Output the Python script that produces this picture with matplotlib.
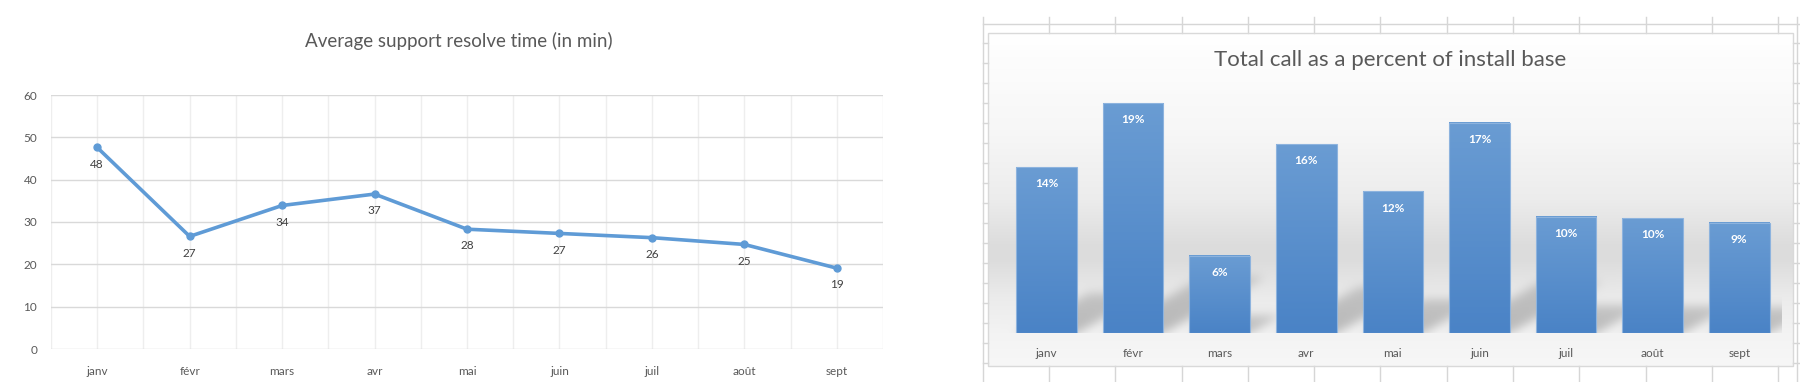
import numpy as np
import matplotlib
matplotlib.use('Agg')
import matplotlib.pyplot as plt
from matplotlib.patches import Rectangle

plt.rcParams['font.family'] = ['Lato', 'DejaVu Sans']

# data
months = ['janv', 'févr', 'mars', 'avr', 'mai', 'juin', 'juil', 'août', 'sept']
resolve_min = [47.6, 26.6, 33.9, 36.6, 28.3, 27.3, 26.3, 24.7, 19.1]
call_pct = [13.7, 19.0, 6.4, 15.6, 11.7, 17.4, 9.6, 9.5, 9.1]

W, H = 1800, 382
fig = plt.figure(figsize=(W / 100, H / 100), dpi=100)

# pixel-space background layer (sheet grid, chart box, gradient, shadows)
bg = fig.add_axes([0, 0, 1, 1])
bg.set_xlim(0, W)
bg.set_ylim(H, 0)
bg.axis('off')

def fig_rect(x0, y0, x1, y1):
    # pixel box (top-left origin) -> figure fraction
    return [x0 / W, (H - y1) / H, (x1 - x0) / W, (y1 - y0) / H]

# ---------------- left: line chart ----------------
ax1 = fig.add_axes(fig_rect(51, 95, 883, 349))
x = np.arange(len(months))
ax1.set_xlim(-0.5, len(months) - 0.5)
ax1.set_ylim(0, 60)
ax1.set_yticks(range(0, 61, 10))
ax1.set_xticks(x)
ax1.set_xticklabels(months)
ax1.set_xticks(np.arange(-0.5, len(months), 1.0), minor=True)
ax1.grid(axis='y', color='#d9d9d9', lw=1)
ax1.grid(axis='x', which='both', color='#eeeeee', lw=1)
ax1.set_axisbelow(True)
for s in ax1.spines.values():
    s.set_visible(False)
ax1.tick_params(axis='both', which='both', length=0, colors='#595959', labelsize=8.5)
ax1.tick_params(axis='y', pad=10)
ax1.tick_params(axis='x', pad=12)
ax1.plot(x, resolve_min, color='#5f9bd6', lw=2.6, marker='o', ms=5,
         solid_capstyle='round', zorder=3)
for xi, v in zip(x, resolve_min):
    ax1.annotate(f'{v:.0f}', (xi, v), xytext=(0, -12), textcoords='offset points',
                 ha='center', va='center', fontsize=8.5, color='#404040')
bg.text(459, 41, 'Average support resolve time (in min)', ha='center', va='center',
        fontsize=13.5, color='#595959')

# ---------------- right: bar chart ----------------
box = (988, 33, 1793, 366)
sheet = '#d6d6d6'
bg.plot([983, 983], [17, H], color=sheet, lw=1)
bg.plot([983, W], [24, 24], color=sheet, lw=1)
bg.plot([1797, 1797], [17, H], color=sheet, lw=1)
for yy in np.arange(43, H, 20):
    bg.plot([983, 988], [yy, yy], color=sheet, lw=1)
    bg.plot([1793, W], [yy, yy], color=sheet, lw=1)
for xx in np.arange(1049, W, 66.3):
    bg.plot([xx, xx], [17, 33], color=sheet, lw=1)
    bg.plot([xx, xx], [366, H], color=sheet, lw=1)

ax2 = fig.add_axes(fig_rect(1003.2, 79, 1782.6, 333))
ax2.set_xlim(-0.5, len(months) - 0.5)
ax2.set_ylim(0, 21)
ax2.patch.set_visible(False)
for s in ax2.spines.values():
    s.set_visible(False)
ax2.set_yticks([])
ax2.set_xticks(x)
ax2.set_xticklabels(months)
ax2.tick_params(axis='x', length=0, colors='#595959', labelsize=8.5, pad=11)

bw = 0.7
grad = np.linspace(0, 1, 64)[:, None]
bar_cmap = matplotlib.colors.LinearSegmentedColormap.from_list(
    'bar', ['#4a83c6', '#6a9cd3'])
for xi, v in zip(x, call_pct):
    ax2.imshow(grad, cmap=bar_cmap, origin='lower', aspect='auto',
               extent=(xi - bw / 2, xi + bw / 2, 0, v), zorder=2)
    ax2.add_patch(Rectangle((xi - bw / 2, 0), bw, v, fill=False,
                            ec='#8db3de', lw=0.8, zorder=3))
    ax2.annotate(f'{v:.0f}%', (xi, v), xytext=(0, -12), textcoords='offset points',
                 ha='center', va='center', fontsize=8.5, color='white',
                 fontweight='bold', zorder=4)
ax2.set_xlim(-0.5, len(months) - 0.5)
ax2.set_ylim(0, 21)

# background gradient of the chart box
bx0, by0, bx1, by1 = box
rows = np.arange(by0, by1) + 0.5
shade = np.interp(rows, [33, 130, 200, 247, 262, 297, 333, 366],
                  [255, 247, 236, 220, 221, 235, 243, 247]) / 255.0
img = np.repeat(shade[:, None], bx1 - bx0, axis=1)

# soft shadows cast by the bars, in pixel space
mask = np.zeros_like(img)
to_px = ax2.transData.transform
plot_r = to_px((len(months) - 0.5, 0))[0]
for xi, v in zip(x, call_pct):
    xl, yb = to_px((xi - bw / 2, 0))
    xr = to_px((xi + bw / 2, 0))[0]
    ht = to_px((xi, v))[1] - yb
    base = H - yb
    s = 0.25 * ht
    for t in range(int(s)):
        r = int(base - t - by0)
        c0 = max(int(xl + 1.8 * t - bx0), 0)
        c1 = max(int(xr + 1.8 * t - bx0), 0)
        mask[r, c0:c1] = np.maximum(mask[r, c0:c1], 1.0 - 0.3 * t / s)
k = np.exp(-0.5 * (np.arange(-15, 16) / 5.0) ** 2)
k /= k.sum()
mask = np.apply_along_axis(lambda m: np.convolve(m, k, mode='same'), 0, mask)
mask = np.apply_along_axis(lambda m: np.convolve(m, k, mode='same'), 1, mask)
base_row = int(H - to_px((0, 0))[1] - by0)
mask[base_row:, :] = 0
mask[:, int(plot_r - bx0):] = 0
img = img * (1 - 0.24 * mask)
rgb = np.dstack([img, img, img])
bg.imshow(rgb, extent=(bx0, bx1, by1, by0), aspect='auto', interpolation='bilinear',
          zorder=1)
bg.add_patch(Rectangle((bx0, by0), bx1 - bx0, by1 - by0, fill=False,
                       ec='#d9d9d9', lw=1, zorder=2))
bg.set_xlim(0, W)
bg.set_ylim(H, 0)
bg.text(1390, 60, 'Total call as a percent of install base',
        ha='center', va='center', fontsize=16, color='#595959', zorder=3)

fig.savefig('out.png', dpi=100)
